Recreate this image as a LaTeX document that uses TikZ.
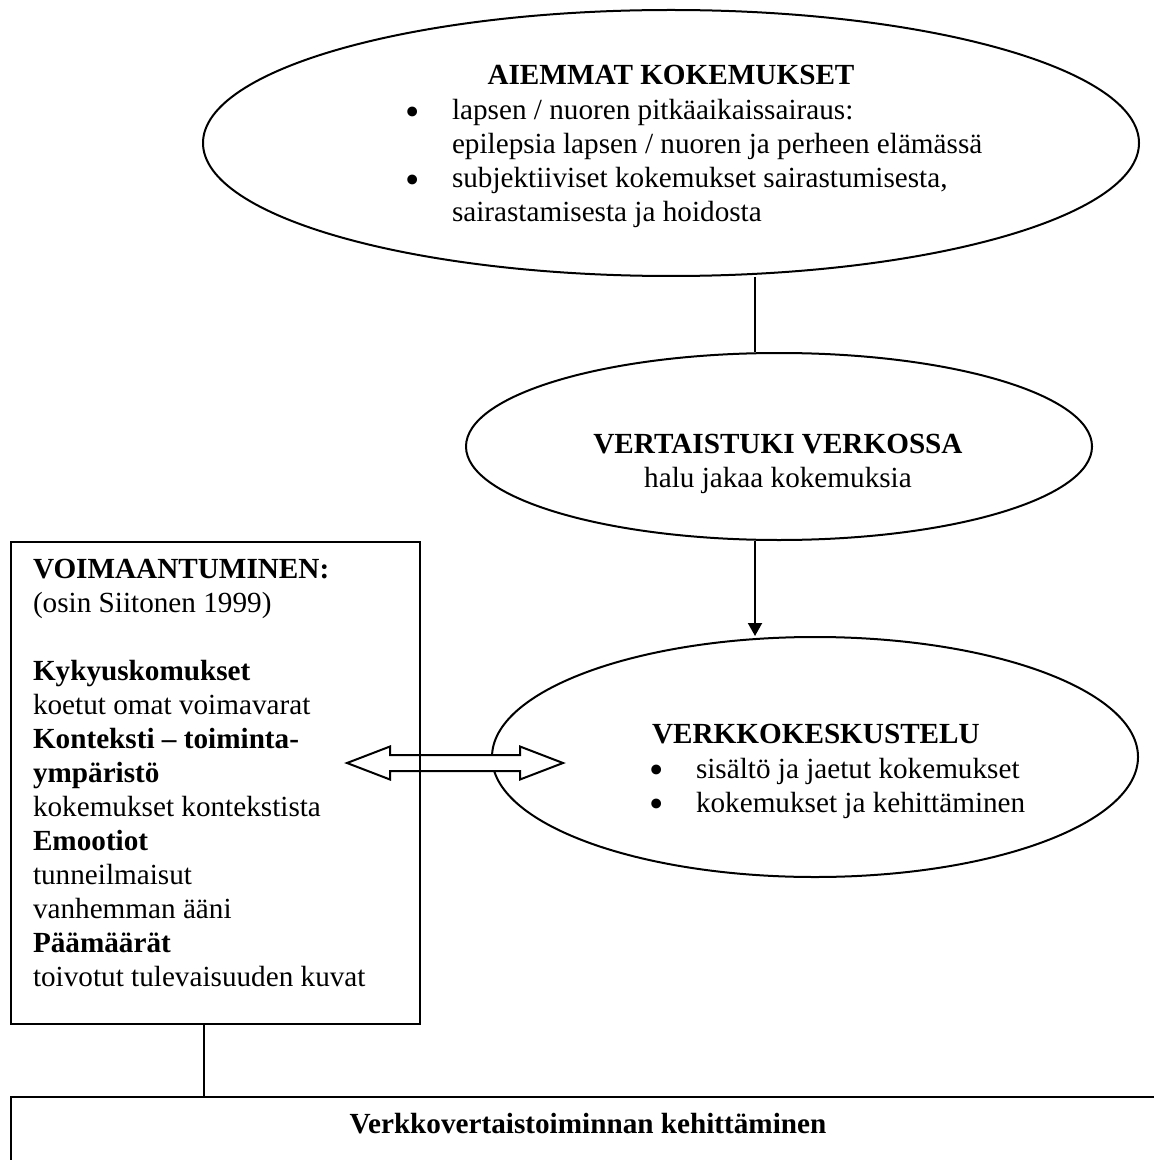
\documentclass[tikz,border=0pt]{standalone}
\usepackage{fontspec}
\setmainfont{Liberation Serif}
\usetikzlibrary{shapes.geometric,arrows.meta}
\newcommand{\bigbullet}{\raisebox{-0.2em}{\scalebox{1.4}{\textbullet}}}

\begin{document}
\begin{tikzpicture}[x=0.5pt, y=-0.5pt, line width=1pt,
  bubble/.style={draw, ellipse, inner sep=0pt},
  frame/.style={draw, rectangle, inner sep=0pt, anchor=north west},
  txt/.style={inner sep=0pt, font=\fontsize{14.6}{17}\selectfont},
  blockarrow/.style={draw, fill=white, line join=miter}]
\useasboundingbox (0,0) rectangle (1153,1160);

% ellipses
\node[bubble, minimum width=468pt, minimum height=133pt] (aiemmat) at (671,143) {};
\node[bubble, minimum width=313pt, minimum height=93.5pt] (vertais) at (779,446.5) {};
\node[bubble, minimum width=323pt, minimum height=120pt] (verkko) at (815,757) {};
\coordinate (axis) at (755,0);

% texts in the ellipses
\node[txt, anchor=base] (aiemmatT) at (671,85) {\bfseries AIEMMAT KOKEMUKSET};
\node[txt, anchor=base west] (aiemmatL) at (404,120) {\begin{tabular}[t]{@{}l@{}l@{}}
  \makebox[23.5pt][l]{\bigbullet} & lapsen / nuoren pitkäaikaissairaus:\\
   & epilepsia lapsen / nuoren ja perheen elämässä\\
  \makebox[23.5pt][l]{\bigbullet} & subjektiiviset kokemukset sairastumisesta,\\
   & sairastamisesta ja hoidosta
\end{tabular}};
\node[txt, anchor=base] (vertaisT) at (778,453) {\begin{tabular}[t]{@{}c@{}}
  \bfseries VERTAISTUKI VERKOSSA\\
  halu jakaa kokemuksia
\end{tabular}};
\node[txt, anchor=base west] (verkkoT) at (651,743) {\bfseries VERKKOKESKUSTELU};
\node[txt, anchor=base west] (verkkoL) at (648,778) {\begin{tabular}[t]{@{}l@{}l@{}}
  \makebox[23.5pt][l]{\bigbullet} & sisältö ja jaetut kokemukset\\
  \makebox[23.5pt][l]{\bigbullet} & kokemukset ja kehittäminen
\end{tabular}};

% connectors
\draw (aiemmat.south -| axis) -- (vertais.north -| axis);
\draw[-{Triangle[length=6.5pt,width=7pt]}] (vertais.south -| axis) -- (verkko.north -| axis);

% two-way block arrow
\draw[blockarrow] (347,763) -- (390,746.5) -- (390,755) -- (520,755) -- (520,746.5)
  -- (563,763) -- (520,779.5) -- (520,771) -- (390,771) -- (390,779.5) -- cycle;

% boxes
\node[frame, minimum width=204.5pt, minimum height=241pt] (voima) at (10,541) {};
\node[txt, anchor=base west] (voimaT) at (32,578) {\begin{tabular}[t]{@{}l@{}}
  \bfseries VOIMAANTUMINEN:\\
  (osin Siitonen 1999)\\
  \\
  \bfseries Kykyuskomukset\\
  koetut omat voimavarat\\
  \bfseries Konteksti – toiminta-\\
  \bfseries ympäristö\\
  kokemukset kontekstista\\
  \bfseries Emootiot\\
  tunneilmaisut\\
  vanhemman ääni\\
  \bfseries Päämäärät\\
  toivotut tulevaisuuden kuvat
\end{tabular}};
\node[frame, minimum width=590pt, minimum height=60pt] (kehitys) at (10,1096) {};
\node[txt, anchor=base] (kehitysT) at (588,1133) {\bfseries Verkkovertaistoiminnan kehittäminen};

\draw ([xshift=-6pt]voima.south) -- ([xshift=-6pt]voima.south |- kehitys.north);
\end{tikzpicture}
\end{document}
